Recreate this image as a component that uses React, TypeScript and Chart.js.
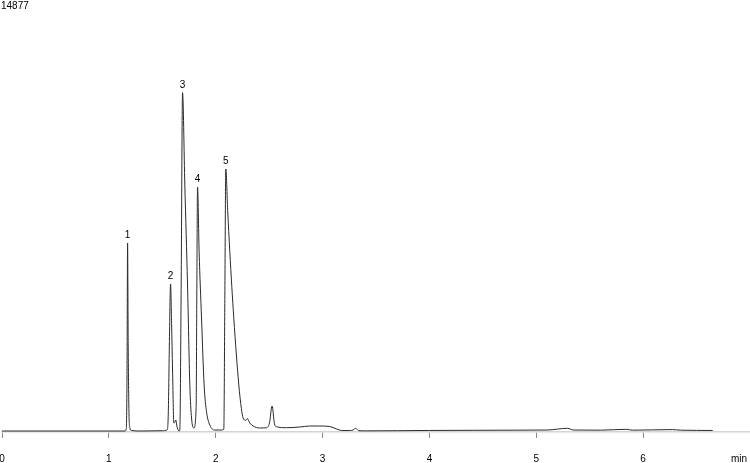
import React, { useEffect, useRef } from "react";
import { Chart, registerables } from "chart.js";

Chart.register(...registerables);

// Retention time (min) and detector signal
const TIME_MIN = [
  0, 1.0, 1.15, 1.163, 1.17, 1.1753, 1.181, 1.188, 1.196, 1.21, 1.3, 1.5,
  1.545, 1.556, 1.566, 1.5774, 1.587, 1.5961, 1.6082, 1.617, 1.627, 1.638, 1.6484, 1.66,
  1.6643, 1.6765, 1.6896, 1.711, 1.7363, 1.7578, 1.7737, 1.7952,
  1.8167, 1.8233, 1.8298, 1.8448, 1.8672, 1.8915, 1.914, 1.9448, 1.9916, 2.0542,
  2.0757, 2.085, 2.0944, 2.112, 2.1319, 2.1693, 2.2161, 2.24, 2.2562, 2.281, 2.295,
  2.3189, 2.3497, 2.4123, 2.475, 2.503, 2.5274, 2.55, 2.5685, 2.662, 2.786, 2.88,
  2.973, 3.067, 3.132, 3.179, 3.254, 3.285, 3.31, 3.338, 3.4, 3.7, 4.0, 4.4, 4.8,
  5.1, 5.292, 5.35, 5.6, 5.844, 5.9, 6.274, 6.35, 6.651,
];
const SIGNAL = [
  0, 0, 0, 80, 2000, 6644, 3000, 700, 120, 20, 0, 10,
  40, 600, 3000, 5195, 3800, 2156, 283, 300, 389, 150, 35, 0,
  50, 5000, 11955, 8694, 5160, 1626, 459, 106,
  800, 5000, 8623, 6337, 3993, 1626, 682, 212, 35, 35,
  60, 4500, 9259, 7800, 6337, 3983, 1626, 800, 459, 380, 440,
  283, 177, 106, 117, 280, 884, 250, 152, 117, 141, 177,
  177, 159, 71, 18, 18, 35, 95, 12, 5, 10, 20, 25, 30,
  35, 95, 35, 30, 60, 30, 50, 30, 20,
];

// Peak annotations
const PEAK_LABELS = ["1", "2", "3", "4", "5"];
const PEAK_TIMES = [1.1753, 1.5774, 1.6896, 1.8298, 2.0944];
const PEAK_HEIGHTS = [6644, 5195, 11955, 8623, 9259];

// Axis settings
const X_TICKS = [0, 1, 2, 3, 4, 5, 6];
const X_MIN = 0;
const X_MAX = 7;
const Y_MAX = 14877;
const Y_MIN = -35;
const X_UNIT = "min";

const FONT = "'Liberation Sans', Arial, Helvetica, sans-serif";

export default function App() {
  const ref = useRef<HTMLCanvasElement | null>(null);

  useEffect(() => {
    document.body.style.margin = "0";
    const canvas = ref.current;
    if (!canvas) return;

    const annotate = {
      id: "annotate",
      afterDatasetsDraw(chart: any) {
        const ctx = chart.ctx;
        const xs = chart.scales.x;
        const ys = chart.scales.y;
        ctx.save();
        ctx.fillStyle = "#000";
        ctx.font = `10px ${FONT}`;
        ctx.textAlign = "center";
        ctx.textBaseline = "alphabetic";
        PEAK_LABELS.forEach((lab, i) => {
          const px = xs.getPixelForValue(PEAK_TIMES[i]);
          const py = ys.getPixelForValue(PEAK_HEIGHTS[i]);
          ctx.fillText(lab, px, py - 5);
        });
        ctx.textAlign = "left";
        ctx.fillText(String(Y_MAX), 1, 9);
        ctx.textAlign = "right";
        ctx.textBaseline = "middle";
        ctx.fillText(X_UNIT, chart.width - 3, xs.top + 6 + 15 + 6);
        ctx.restore();
      },
    };

    const chart = new Chart(canvas, {
      type: "line",
      data: {
        datasets: [
          {
            data: TIME_MIN.map((t, i) => ({ x: t, y: SIGNAL[i] })),
            borderColor: "#2a2a2a",
            borderWidth: 1,
            pointRadius: 0,
            cubicInterpolationMode: "monotone",
            fill: false,
          },
        ],
      },
      options: {
        animation: false,
        responsive: false,
        maintainAspectRatio: false,
        layout: { padding: { top: 10, left: 2, right: 0, bottom: 0 } },
        plugins: {
          legend: { display: false },
          tooltip: { enabled: false },
        },
        scales: {
          x: {
            type: "linear",
            min: X_MIN,
            max: X_MAX,
            afterBuildTicks(scale: any) {
              scale.ticks = X_TICKS.map((v) => ({ value: v }));
            },
            afterFit(scale: any) {
              scale.paddingLeft = 0;
              scale.paddingRight = 0;
              scale.height = 31;
            },
            grid: {
              display: true,
              drawOnChartArea: false,
              drawTicks: true,
              tickLength: 6,
              tickColor: "#8a8a8a",
              tickWidth: 1,
            },
            border: { display: true, color: "#d4d4d4", width: 1.5 },
            ticks: {
              autoSkip: false,
              maxRotation: 0,
              padding: 15,
              color: "#000",
              font: { family: FONT, size: 10 },
              callback: (v: any) => String(v),
            },
          },
          y: {
            display: false,
            min: Y_MIN,
            max: Y_MAX,
          },
        },
      },
      plugins: [annotate],
    });

    return () => chart.destroy();
  }, []);

  return (
    <div style={{ width: 750, height: 463, position: "relative" }}>
      <canvas ref={ref} width={750} height={463} style={{ width: 750, height: 463, display: "block" }} />
    </div>
  );
}
